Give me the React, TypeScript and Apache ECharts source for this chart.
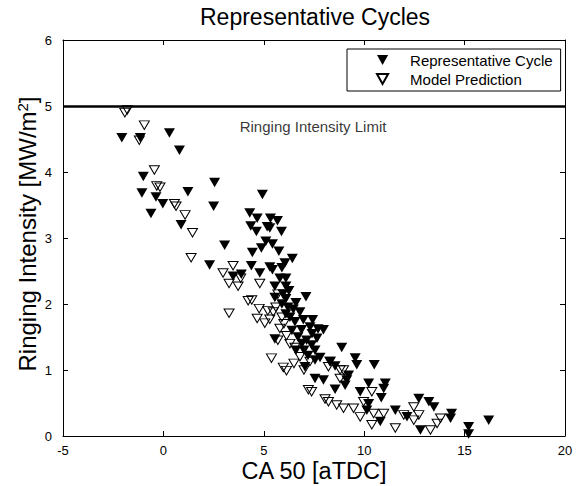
import React, { useEffect, useRef } from "react";
import * as echarts from "echarts";

const chartTitle = "Representative Cycles";
const xAxisName = "CA 50 [aTDC]";
const yAxisName = "Ringing Intensity [MW/m{sup|2}]";
const limitLabel = "Ringing Intensity Limit";
const limitValue = 5;
const limitLabelPos = [3.8, 4.69];
const xRange = [-5, 20];
const yRange = [0, 6];

const representativeCycle: number[][] = [
  [-2.07, 4.52], [-1.15, 4.52], [0.3, 4.59], [0.8, 4.33], [-1.0, 3.93], [2.55, 3.84],
  [-1.07, 3.68], [-0.37, 3.62], [1.22, 3.7], [-0.03, 3.52], [2.5, 3.48], [-0.62, 3.37],
  [0.88, 3.2], [4.3, 3.38], [4.93, 3.66], [4.67, 3.3], [5.33, 3.3], [5.68, 3.26],
  [4.35, 3.18], [4.63, 3.1], [5.17, 3.17], [5.3, 3.15], [5.88, 3.1], [3.05, 2.89],
  [4.88, 2.85], [5.43, 2.91], [4.43, 2.78], [6.42, 2.69], [2.3, 2.59], [4.38, 2.58],
  [3.47, 2.42], [3.88, 2.45], [4.8, 2.47], [5.3, 2.56], [5.43, 2.52], [5.8, 2.39],
  [6.1, 2.39], [5.55, 2.27], [6.1, 2.27], [5.55, 2.1], [6.1, 2.08], [7.1, 2.11],
  [6.47, 1.92], [6.8, 1.88], [6.55, 1.73], [6.97, 1.76], [7.43, 1.76], [7.97, 1.61],
  [5.55, 1.47], [6.88, 1.61], [7.13, 1.45], [7.38, 1.38], [7.55, 1.3], [8.88, 1.34],
  [7.55, 1.15], [7.8, 1.19], [8.3, 1.13], [8.55, 1.06], [9.22, 0.92], [9.55, 1.18],
  [9.63, 1.08], [10.5, 1.08], [7.55, 0.87], [7.97, 0.85], [9.13, 0.85], [8.55, 0.71],
  [9.05, 0.77], [9.8, 0.67], [10.22, 0.8], [11.05, 0.8], [10.97, 0.72], [10.22, 0.49],
  [10.85, 0.58], [10.13, 0.39], [10.8, 0.22], [11.55, 0.39], [12.72, 0.57], [13.22, 0.52],
  [13.47, 0.44], [12.8, 0.09], [12.13, 0.29], [14.35, 0.34], [14.3, 0.27], [15.2, 0.14],
  [15.2, 0.03], [16.2, 0.24], [5.9, 2.0], [6.2, 1.95], [6.3, 1.8], [6.6, 2.02],
  [6.1, 1.85], [6.7, 1.5], [7.0, 1.3], [7.2, 1.22], [7.4, 1.55], [7.65, 1.48],
  [6.9, 1.4], [7.3, 1.65], [7.7, 1.62], [6.4, 1.6], [6.25, 2.2], [5.9, 2.55],
  [6.05, 2.62], [5.75, 2.8], [5.1, 2.95], [5.95, 2.15], [6.6, 1.3], [7.05, 1.05],
];

const modelPrediction: number[][] = [
  [-1.92, 4.9], [-1.8, 4.94], [-0.95, 4.71], [-1.2, 4.48], [-0.45, 4.03], [-0.33, 3.79],
  [-0.17, 3.77], [0.63, 3.48], [0.55, 3.52], [1.08, 3.35], [1.45, 3.08], [1.38, 2.7],
  [3.47, 2.58], [2.97, 2.47], [3.27, 2.31], [3.72, 2.27], [3.85, 2.39], [4.8, 2.31],
  [5.7, 2.15], [3.27, 1.86], [4.22, 2.05], [4.4, 2.06], [4.77, 1.93], [4.67, 1.78],
  [5.05, 1.71], [5.3, 1.77], [5.47, 1.88], [5.8, 1.63], [6.13, 1.52], [6.55, 1.34],
  [5.38, 1.18], [5.97, 1.04], [6.13, 0.99], [7.3, 1.13], [8.3, 1.13], [8.22, 1.05],
  [8.8, 1.0], [8.97, 1.0], [8.8, 0.87], [7.22, 0.7], [7.38, 0.67], [10.38, 0.67],
  [8.05, 0.56], [8.22, 0.52], [8.63, 0.47], [8.97, 0.42], [9.47, 0.42], [9.97, 0.52],
  [9.8, 0.29], [10.47, 0.34], [10.97, 0.34], [10.38, 0.17], [11.55, 0.12], [11.97, 0.32],
  [12.47, 0.44], [12.72, 0.32], [12.47, 0.24], [13.3, 0.09], [13.63, 0.19], [13.8, 0.27],
  [5.6, 1.95], [5.9, 1.8], [6.0, 1.7], [5.2, 1.9], [5.7, 1.45], [6.3, 1.4],
  [6.8, 1.2], [7.0, 1.0], [6.5, 1.1],
];

const FONT = "'Liberation Sans', Arial, Helvetica, sans-serif";
const TRI = "path://M0,0L10,0L5,9Z";

export default function App() {
  const ref = useRef<HTMLDivElement>(null);
  useEffect(() => {
    document.body.style.margin = "0";
    if (!ref.current) return;
    const chart = echarts.init(ref.current, undefined, { renderer: "svg" });
    const axisCommon = {
      min: xRange[0],
      max: xRange[1],
      interval: 5,
      axisLine: { show: true, onZero: false, lineStyle: { color: "#000", width: 1 } },
      axisTick: { show: true, inside: true, length: 5, lineStyle: { color: "#000" } },
      splitLine: { show: false },
    };
    const yCommon = {
      min: yRange[0],
      max: yRange[1],
      interval: 1,
      axisLine: { show: true, onZero: false, lineStyle: { color: "#000", width: 1 } },
      axisTick: { show: true, inside: true, length: 5, lineStyle: { color: "#000" } },
      splitLine: { show: false },
    };
    chart.setOption({
      animation: false,
      backgroundColor: "#fff",
      textStyle: { fontFamily: FONT },
      title: {
        text: chartTitle,
        left: 200,
        top: 5,
        padding: 0,
        textStyle: { fontSize: 23, fontWeight: "normal", color: "#000", fontFamily: FONT },
      },
      grid: { left: 63, right: 22, top: 40, bottom: 50, containLabel: false, outerBoundsMode: "none" },
      legend: {
        left: 347,
        top: 49,
        orient: "vertical",
        padding: [3, 8, 4, 29],
        itemWidth: 45,
        itemHeight: 10,
        itemGap: 3,
        borderColor: "#000",
        borderWidth: 1,
        borderRadius: 0,
        backgroundColor: "#fff",
        symbolKeepAspect: true,
        textStyle: { fontSize: 15, color: "#000", fontFamily: FONT, lineHeight: 16 },
        data: [
          { name: "Representative Cycle", icon: TRI },
          { name: "Model Prediction", icon: TRI },
        ],
      },
      xAxis: [
        {
          type: "value",
          position: "bottom",
          ...axisCommon,
          name: xAxisName,
          nameLocation: "middle",
          nameGap: 23,
          nameMoveOverlap: false,
          nameTextStyle: { fontSize: 23.5, color: "#000", fontFamily: FONT },
          axisLabel: { show: true, margin: 8, fontSize: 13, color: "#000", fontFamily: FONT },
        },
        {
          type: "value",
          position: "top",
          ...axisCommon,
          axisLabel: { show: false },
        },
      ],
      yAxis: [
        {
          type: "value",
          position: "left",
          ...yCommon,
          name: yAxisName,
          nameLocation: "middle",
          nameGap: 24,
          nameMoveOverlap: false,
          nameTextStyle: {
            fontSize: 24,
            color: "#000",
            fontFamily: FONT,
            padding: [0, 0, 0, 8],
            rich: { sup: { fontSize: 15, verticalAlign: "top", color: "#000", fontFamily: FONT, padding: [0, 0, 9, 0] } },
          },
          axisLabel: { show: true, margin: 11, fontSize: 13, color: "#000", fontFamily: FONT },
        },
        {
          type: "value",
          position: "right",
          ...yCommon,
          axisLabel: { show: false },
        },
      ],
      series: [
        {
          name: "Representative Cycle",
          type: "scatter",
          xAxisIndex: 0,
          yAxisIndex: 0,
          symbol: TRI,
          symbolSize: [11, 9.5],
          symbolKeepAspect: false,
          itemStyle: { color: "#000", opacity: 1 },
          data: representativeCycle,
          silent: true,
          markLine: {
            silent: true,
            symbol: ["none", "none"],
            label: { show: false },
            lineStyle: { color: "#000", width: 2.5, type: "solid" },
            data: [{ yAxis: limitValue }],
          },
        },
        {
          name: "Model Prediction",
          type: "scatter",
          xAxisIndex: 0,
          yAxisIndex: 0,
          symbol: TRI,
          symbolSize: [10, 8.5],
          symbolKeepAspect: false,
          itemStyle: { color: "rgba(0,0,0,0)", borderColor: "#000", borderWidth: 1, opacity: 1 },
          data: modelPrediction,
          silent: true,
        },
        {
          name: "limitText",
          type: "scatter",
          xAxisIndex: 0,
          yAxisIndex: 0,
          symbolSize: 0,
          silent: true,
          data: [limitLabelPos],
          label: {
            show: true,
            position: "right",
            distance: 0,
            formatter: limitLabel,
            fontSize: 15,
            color: "#000",
            fontFamily: FONT,
          },
        },
      ],
    });
    return () => chart.dispose();
  }, []);
  return <div ref={ref} style={{ width: 587, height: 486 }} />;
}
